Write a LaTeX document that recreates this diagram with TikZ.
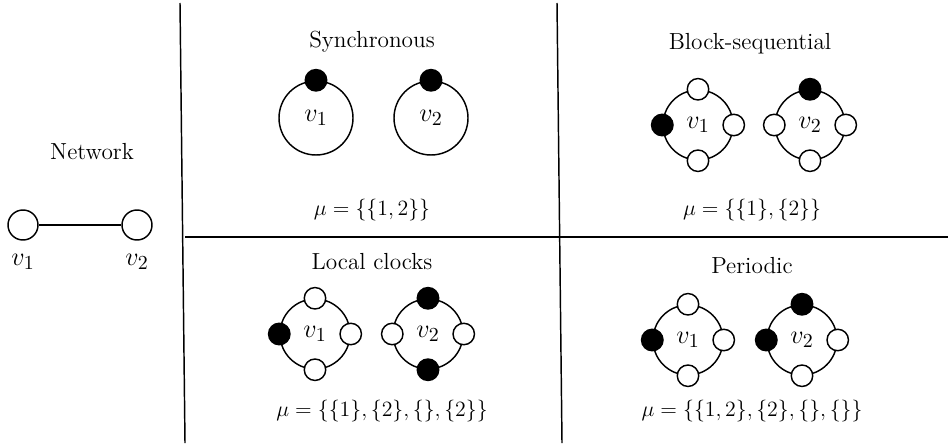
\documentclass[tikz,border=0pt]{standalone}
\begin{document}
\begin{tikzpicture}[x=0.55pt,y=-0.55pt,
  every node/.style={font=\fontsize{12.8}{15}\selectfont},
  vlab/.style={font=\fontsize{15}{18}\selectfont},
  bigring/.style={circle,draw,line width=0.8pt,minimum size=40.7pt,inner sep=0pt,vlab},
  ring/.style={circle,draw,line width=0.8pt,minimum size=38.5pt,inner sep=0pt,vlab},
  bdot/.style={circle,draw,fill=black,line width=0.8pt,minimum size=11.8pt,inner sep=0pt},
  wdot/.style={circle,draw,fill=white,line width=0.8pt,minimum size=11.8pt,inner sep=0pt},
  netnode/.style={circle,draw,line width=0.8pt,minimum size=16.5pt,inner sep=0pt},
  sep/.style={line width=0.8pt},
  label/.style={inner sep=0pt}]
\useasboundingbox (0,0) rectangle (948,443);
% separators
\coordinate (l1) at (180,3); \coordinate (l2) at (185,443);
\coordinate (r1) at (557,3); \coordinate (r2) at (562,443);
\coordinate (h1) at (185,237); \coordinate (h2) at (948,237);
\draw[sep] (l1) -- (l2);
\draw[sep] (r1) -- (r2);
\draw[sep] (h1) -- (h2);
% network
\node[label] (tnet) at (92,152) {Network};
\node[netnode] (n1) at (23,225) {};
\node[netnode] (n2) at (137,225) {};
\draw[line width=0.8pt] (n1) -- (n2);
\node[label,vlab] (ln1) at (23,262) {$v_1$};
\node[label,vlab] (ln2) at (137,262) {$v_2$};
% synchronous
\node[label] (tsyn) at (372,42) {Synchronous};
\node[bigring] (s1) at (316,118) {$v_1$};
\node[bigring] (s2) at (431,118) {$v_2$};
\node[bdot] (s1t) at (s1.north) {};
\node[bdot] (s2t) at (s2.north) {};
\node[label] (msyn) at (372,210) {$\mu=\{\{1,2\}\}$};
% block-sequential
\node[label] (tblk) at (750,44) {Block-sequential};
\node[ring] (b1) at (698,125) {$v_1$};
\node[ring] (b2) at (810,125) {$v_2$};
\node[wdot] at (b1.north) {};
\node[bdot] at (b1.west) {};
\node[wdot] at (b1.east) {};
\node[wdot] at (b1.south) {};
\node[bdot] at (b2.north) {};
\node[wdot] at (b2.west) {};
\node[wdot] at (b2.east) {};
\node[wdot] at (b2.south) {};
\node[label] (mblk) at (752,210) {$\mu=\{\{1\},\{2\}\}$};
% local clocks
\node[label] (tloc) at (372,262) {Local clocks};
\node[ring] (c1) at (315,334) {$v_1$};
\node[ring] (c2) at (428,334) {$v_2$};
\node[wdot] at (c1.north) {};
\node[bdot] at (c1.west) {};
\node[wdot] at (c1.east) {};
\node[wdot] at (c1.south) {};
\node[bdot] at (c2.north) {};
\node[wdot] at (c2.west) {};
\node[wdot] at (c2.east) {};
\node[bdot] at (c2.south) {};
\node[label] (mloc) at (382,411) {$\mu=\{\{1\},\{2\},\{\},\{2\}\}$};
% periodic
\node[label] (tper) at (752,266) {Periodic};
\node[ring] (p1) at (688,340) {$v_1$};
\node[ring] (p2) at (802,340) {$v_2$};
\node[wdot] at (p1.north) {};
\node[bdot] at (p1.west) {};
\node[wdot] at (p1.east) {};
\node[wdot] at (p1.south) {};
\node[bdot] at (p2.north) {};
\node[bdot] at (p2.west) {};
\node[wdot] at (p2.east) {};
\node[wdot] at (p2.south) {};
\node[label] (mper) at (752,411) {$\mu=\{\{1,2\},\{2\},\{\},\{\}\}$};
\end{tikzpicture}
\end{document}
